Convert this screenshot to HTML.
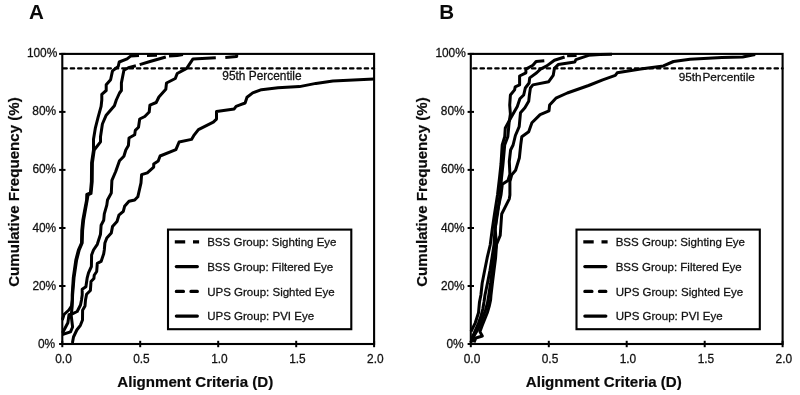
<!DOCTYPE html>
<html lang="en"><head><meta charset="utf-8"><title>Cumulative frequency of alignment criteria</title>
<style>html,body{margin:0;padding:0;background:#fff}svg{display:block}text{font-family:"Liberation Sans",Arial,Helvetica,sans-serif;fill:#111;stroke:#111;stroke-width:0.27px}.b{font-weight:bold;fill:#0a0a0a;stroke:#0a0a0a;stroke-width:0.2px}.t{stroke:none}</style></head><body>
<svg width="800" height="395" viewBox="0 0 800 395">
<rect width="800" height="395" fill="#fff"/>
<g id="panel-A">
<text class="b t" x="29.1" y="19.1" font-size="20.6">A</text>
<polyline points="62.3,320 64,314.5 68.9,310 71.5,306 72.2,300 72.2,295 73.3,277.8 75.8,260.1 78.4,250 81.5,243 81.8,230.4 82.8,220.3 84.7,210.1 86.6,200 86.8,194.3 90.4,193 91.4,181.6 91.6,162.7 93.5,150 93.5,139.2 95.4,127.8 98,117.7 101.1,106.3 101.8,100 101.8,94.3 106.2,90.5 106.2,84.8 110.6,79.7 112.5,70.9 118.2,66.5 119.2,62 127.1,58.9 130.9,55.9 139,55.5" fill="none" stroke="#000" stroke-width="3.0" stroke-linejoin="round" stroke-linecap="butt"/>
<polyline points="147,55.4 157,55.3" fill="none" stroke="#000" stroke-width="3.0" stroke-linejoin="round" stroke-linecap="butt"/>
<polyline points="62.3,334.5 70.5,331.8 72.6,327 71.2,315.5 72.2,306 72.4,300 72.6,295 74,277.8 76.6,260.1 79.2,250 82.2,243 82.6,230.4 83.6,220.3 85.4,210.1 87.2,200 88,195 91,193.5 92.2,181.6 92.4,162.7 94.2,150 100.5,141.8 100.5,136.7 102.4,124 106.2,115.2 114.4,105.7 116.3,100 119.5,93 121.4,90.5 121.4,82.9 123.9,70.3 128.4,67.7 135.9,65.8" fill="none" stroke="#000" stroke-width="3.0" stroke-linejoin="round" stroke-linecap="butt"/>
<polyline points="139.7,64.6 150,61.5 165.8,57" fill="none" stroke="#000" stroke-width="3.0" stroke-linejoin="round" stroke-linecap="butt"/>
<polyline points="169,56.1 177.2,55.4 183,54.6" fill="none" stroke="#000" stroke-width="3.0" stroke-linejoin="round" stroke-linecap="butt"/>
<polyline points="62.5,333 67.9,322.8 69,314.8 72.3,313.8 77.2,311.5 80.5,305 81.5,300 82.2,295 82.2,289.2 85.9,286.7 87.2,277.8 88.5,272.8 91.4,266.5 91.6,255.1 93.5,250 97.3,244.3 100.5,234.2 101.1,225.3 103.7,220.3 104.3,213.9 106.8,205.1 107.5,200 111.3,193 111.9,180.4 115.7,171.5 119.5,160.8 123.9,156.3 125.8,150 128.4,145.6 129,138 134.7,134.8 135.3,130.4 138.5,127.2 139.7,119 144.8,116.5 149.2,112 149.9,105.1 156.2,102.5 158.9,97 165.8,89.3 166.5,83 175.3,78.5 177.2,73.5 186.7,68.4 193,58.9 215.8,57.7" fill="none" stroke="#000" stroke-width="3.0" stroke-linejoin="round" stroke-linecap="butt"/>
<polyline points="225.3,57.4 236.7,56.6 236.7,53.9" fill="none" stroke="#000" stroke-width="3.0" stroke-linejoin="round" stroke-linecap="butt"/>
<polyline points="72.4,343 73.5,337 76.8,330 80.4,325.3 82.5,320 82.6,310.3 85,306 85.5,300 86.6,294.3 90.4,290.5 91,281.6 93.9,278.5 94.2,275.3 96.7,271.5 97.3,263.3 101.1,261.4 103.7,253.8 104.3,250 104.9,243 106.8,238 111.3,232.9 112.5,226.6 117,221.5 118.9,215.2 123.3,211.4 124.6,206.3 129,201.3 134.7,200 137.8,196.8 141,182.9 141.6,174.7 147.3,172.8 153.7,167.1 153.7,163.9 158.2,161 160.1,156 175.9,149.6 179.1,142 191.5,139.4 193.7,135.7 198.4,129.6 213.3,122.2 216.5,119.1 216.5,111.5 234.2,108.9 236.1,106.4 240,104.9 245.1,103 247,97.3 252.7,92.9 261.5,89.7 278,87.8 299.5,86.6 315.9,83.4 332.9,81.1 374,78.9" fill="none" stroke="#000" stroke-width="3.0" stroke-linejoin="round" stroke-linecap="butt"/>
<line x1="62.3" y1="68.4" x2="374.1" y2="68.4" stroke="#000" stroke-width="2.2" stroke-linecap="round" stroke-dasharray="3.4 3.95" stroke-dashoffset="-1.1"/>
<rect x="62.3" y="53.9" width="311.8" height="290.1" fill="none" stroke="#000" stroke-width="2.1"/>
<line x1="59.1" y1="344.0" x2="65.5" y2="344.0" stroke="#000" stroke-width="2"/>
<text x="55.2" y="347.5" font-size="11.9" text-anchor="end">0%</text>
<line x1="59.1" y1="286.0" x2="65.5" y2="286.0" stroke="#000" stroke-width="2"/>
<text x="56.2" y="289.5" font-size="11.9" text-anchor="end">20%</text>
<line x1="59.1" y1="228.0" x2="65.5" y2="228.0" stroke="#000" stroke-width="2"/>
<text x="56.2" y="231.5" font-size="11.9" text-anchor="end">40%</text>
<line x1="59.1" y1="169.9" x2="65.5" y2="169.9" stroke="#000" stroke-width="2"/>
<text x="56.2" y="173.4" font-size="11.9" text-anchor="end">60%</text>
<line x1="59.1" y1="111.9" x2="65.5" y2="111.9" stroke="#000" stroke-width="2"/>
<text x="56.1" y="115.4" font-size="11.9" text-anchor="end">80%</text>
<line x1="59.1" y1="53.9" x2="65.5" y2="53.9" stroke="#000" stroke-width="2"/>
<text x="57.3" y="57.4" font-size="11.9" text-anchor="end">100%</text>
<line x1="62.3" y1="340.8" x2="62.3" y2="347.2" stroke="#000" stroke-width="2"/>
<text x="63.5" y="362.9" font-size="11.9" text-anchor="middle">0.0</text>
<line x1="140.2" y1="340.8" x2="140.2" y2="347.2" stroke="#000" stroke-width="2"/>
<text x="141.4" y="362.9" font-size="11.9" text-anchor="middle">0.5</text>
<line x1="218.2" y1="340.8" x2="218.2" y2="347.2" stroke="#000" stroke-width="2"/>
<text x="219.4" y="362.9" font-size="11.9" text-anchor="middle">1.0</text>
<line x1="296.2" y1="340.8" x2="296.2" y2="347.2" stroke="#000" stroke-width="2"/>
<text x="297.4" y="362.9" font-size="11.9" text-anchor="middle">1.5</text>
<line x1="374.1" y1="340.8" x2="374.1" y2="347.2" stroke="#000" stroke-width="2"/>
<text x="375.3" y="362.9" font-size="11.9" text-anchor="middle">2.0</text>
<text class="b" x="195.3" y="386.5" font-size="15.1" text-anchor="middle">Alignment Criteria (D)</text>
<text class="b" transform="translate(18.9,192) rotate(-90)" font-size="15.1" text-anchor="middle">Cumulative Frequency (%)</text>
<text x="222.3" y="80.2" font-size="11.9">95th Percentile</text>
<rect x="168" y="229.6" width="183.3" height="99.6" fill="#fff" stroke="#000" stroke-width="2.1"/>
<line x1="174.8" y1="241.9" x2="199.1" y2="241.9" stroke="#000" stroke-width="3.1" stroke-linecap="butt" stroke-dasharray="10.4 7.8"/>
<text x="207.2" y="246.1" font-size="11.52">BSS Group: Sighting Eye</text>
<line x1="176.3" y1="266.6" x2="197.4" y2="266.6" stroke="#000" stroke-width="3.1" stroke-linecap="round"/>
<text x="207.2" y="270.8" font-size="11.52">BSS Group: Filtered Eye</text>
<line x1="176.3" y1="291.4" x2="197.4" y2="291.4" stroke="#000" stroke-width="3.1" stroke-linecap="round" stroke-dasharray="7.2 7.4"/>
<text x="207.2" y="295.5" font-size="11.52">UPS Group: Sighted Eye</text>
<line x1="176.3" y1="316.1" x2="197.4" y2="316.1" stroke="#000" stroke-width="3.1" stroke-linecap="round"/>
<text x="207.2" y="320.3" font-size="11.52">UPS Group: PVI Eye</text>
</g>
<g id="panel-B">
<text class="b t" x="439.2" y="19.1" font-size="20.6">B</text>
<polyline points="471,342.4 472.5,336.8 475.5,330 478.5,323 481,316 482.8,309 484,302 485,295 487.5,283 490,270.3 492,257.7 494,245 495,229 497.5,214 500,195 501.5,178 503,164 504.7,145 507.8,136.8 509.1,122.8 510.4,114 509.7,105.1 510.4,95 514.6,89.9 515.2,86.8 519.6,84.9 519.6,76 525.9,72.8 525.9,69.1 532.9,65.3 536.1,61.5 544.3,60.8" fill="none" stroke="#000" stroke-width="3.0" stroke-linejoin="round" stroke-linecap="butt"/>
<polyline points="471,331.5 475.3,322.8 478.5,312.7 479.5,302 480.9,295 482.2,283 484.7,270.3 487.2,257.7 490.2,245 492.3,229 494.5,214 497.5,195 499.5,178 501,164 502.2,145 504.7,136.8 505.3,127.9 511.6,116.5 517.3,106.4 519.9,98.8 523.7,95 525.3,88 529.1,83 529.7,77.9 536.7,72.8 540.5,69.1 546.8,65.9 554.4,60.2 564.6,57" fill="none" stroke="#000" stroke-width="3.0" stroke-linejoin="round" stroke-linecap="butt"/>
<polyline points="567.1,55.8 576.6,55.4" fill="none" stroke="#000" stroke-width="3.0" stroke-linejoin="round" stroke-linecap="butt"/>
<polyline points="474,342.4 475.9,338 482.3,336 479.9,331.6 482.3,325.3 484.8,319 487.3,312.7 489.2,306.3 490.6,300 491,295 492.4,283 494,270.3 495.6,257.7 496.5,245 495.2,229 496.8,214 501,195 502.3,184.2 508,180.4 509.9,174.1 509.3,161.5 510.6,150 513.1,145 515.4,135.5 519.2,126.6 520.5,112.7 524.9,107.7 528.7,101.3 529.4,95 530.4,88 532.9,84.9 548.7,81.7 553.2,75.4 554.4,68.4 558.2,64.6 574.7,62.1 575.9,59.6 588.6,55.3 600,54.4 612,54.2" fill="none" stroke="#000" stroke-width="3.0" stroke-linejoin="round" stroke-linecap="butt"/>
<polyline points="472,342 474,336 477.5,330 480.5,324 483,317 485.5,310 487.5,303 488.8,295 490.6,283 492.2,270.3 494,257.7 496.3,245 500.2,235.5 501.7,214 509.3,198.8 509.9,195 509.9,181.7 511.8,174.7 515.6,170.3 519.4,157.7 520.7,145 521.8,136.8 528.7,131.7 531.9,122.8 540.1,114.6 549,110.8 549.6,105.1 555.9,98.2 567.3,93 588.6,85.5 602.7,79.8 615.3,75.4 617.2,72.8 640.6,69.1 663.4,65.9 673.5,61.5 690,59.3 721.8,57.6 742.7,56.9 755.2,54.6" fill="none" stroke="#000" stroke-width="3.0" stroke-linejoin="round" stroke-linecap="butt"/>
<line x1="470.8" y1="68.4" x2="782.6" y2="68.4" stroke="#000" stroke-width="2.2" stroke-linecap="round" stroke-dasharray="3.4 3.95" stroke-dashoffset="-2.4"/>
<rect x="470.8" y="53.9" width="311.8" height="290.1" fill="none" stroke="#000" stroke-width="2.1"/>
<line x1="467.6" y1="344.0" x2="474" y2="344.0" stroke="#000" stroke-width="2"/>
<text x="463.7" y="347.5" font-size="11.9" text-anchor="end">0%</text>
<line x1="467.6" y1="286.0" x2="474" y2="286.0" stroke="#000" stroke-width="2"/>
<text x="464.7" y="289.5" font-size="11.9" text-anchor="end">20%</text>
<line x1="467.6" y1="228.0" x2="474" y2="228.0" stroke="#000" stroke-width="2"/>
<text x="464.7" y="231.5" font-size="11.9" text-anchor="end">40%</text>
<line x1="467.6" y1="169.9" x2="474" y2="169.9" stroke="#000" stroke-width="2"/>
<text x="464.7" y="173.4" font-size="11.9" text-anchor="end">60%</text>
<line x1="467.6" y1="111.9" x2="474" y2="111.9" stroke="#000" stroke-width="2"/>
<text x="464.6" y="115.4" font-size="11.9" text-anchor="end">80%</text>
<line x1="467.6" y1="53.9" x2="474" y2="53.9" stroke="#000" stroke-width="2"/>
<text x="465.8" y="57.4" font-size="11.9" text-anchor="end">100%</text>
<line x1="470.8" y1="340.8" x2="470.8" y2="347.2" stroke="#000" stroke-width="2"/>
<text x="472.0" y="362.9" font-size="11.9" text-anchor="middle">0.0</text>
<line x1="548.8" y1="340.8" x2="548.8" y2="347.2" stroke="#000" stroke-width="2"/>
<text x="550.0" y="362.9" font-size="11.9" text-anchor="middle">0.5</text>
<line x1="626.7" y1="340.8" x2="626.7" y2="347.2" stroke="#000" stroke-width="2"/>
<text x="627.9" y="362.9" font-size="11.9" text-anchor="middle">1.0</text>
<line x1="704.7" y1="340.8" x2="704.7" y2="347.2" stroke="#000" stroke-width="2"/>
<text x="705.9" y="362.9" font-size="11.9" text-anchor="middle">1.5</text>
<line x1="782.6" y1="340.8" x2="782.6" y2="347.2" stroke="#000" stroke-width="2"/>
<text x="783.8" y="362.9" font-size="11.9" text-anchor="middle">2.0</text>
<text class="b" x="603.8" y="386.5" font-size="15.1" text-anchor="middle">Alignment Criteria (D)</text>
<text class="b" transform="translate(427.4,192) rotate(-90)" font-size="15.1" text-anchor="middle">Cumulative Frequency (%)</text>
<text x="678.7" y="81" font-size="11.8">95th<tspan dx="0.8">Percentile</tspan></text>
<rect x="576.5" y="229.6" width="183.3" height="99.6" fill="#fff" stroke="#000" stroke-width="2.1"/>
<line x1="583.3" y1="241.9" x2="607.6" y2="241.9" stroke="#000" stroke-width="3.1" stroke-linecap="butt" stroke-dasharray="10.4 7.8"/>
<text x="615.7" y="246.1" font-size="11.52">BSS Group: Sighting Eye</text>
<line x1="584.8" y1="266.6" x2="605.9" y2="266.6" stroke="#000" stroke-width="3.1" stroke-linecap="round"/>
<text x="615.7" y="270.8" font-size="11.52">BSS Group: Filtered Eye</text>
<line x1="584.8" y1="291.4" x2="605.9" y2="291.4" stroke="#000" stroke-width="3.1" stroke-linecap="round" stroke-dasharray="7.2 7.4"/>
<text x="615.7" y="295.5" font-size="11.52">UPS Group: Sighted Eye</text>
<line x1="584.8" y1="316.1" x2="605.9" y2="316.1" stroke="#000" stroke-width="3.1" stroke-linecap="round"/>
<text x="615.7" y="320.3" font-size="11.52">UPS Group: PVI Eye</text>
</g>
</svg></body></html>
